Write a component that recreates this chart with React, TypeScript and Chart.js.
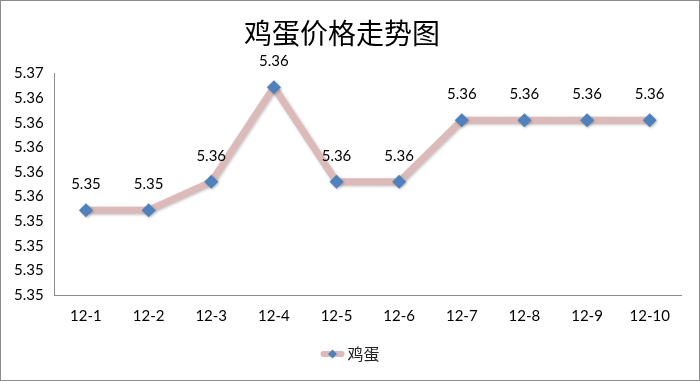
import React, { useEffect, useRef } from "react";
import { Chart, registerables } from "chart.js";

Chart.register(...registerables);

const title = "鸡蛋价格走势图";
const seriesName = "鸡蛋";
const categories = ["12-1", "12-2", "12-3", "12-4", "12-5", "12-6", "12-7", "12-8", "12-9", "12-10"];
const prices = [5.3549, 5.3549, 5.3572, 5.3649, 5.3572, 5.3572, 5.3622, 5.3622, 5.3622, 5.3622];
const yTickValues = [5.348, 5.35, 5.352, 5.354, 5.356, 5.358, 5.36, 5.362, 5.364, 5.366];

const LATIN = "Lato, 'Noto Sans CJK SC', sans-serif";
const LINE_COLOR = "#DDBABA";
const MARKER_COLOR = "#4F81BD";

export default function App() {
  const ref = useRef<HTMLCanvasElement | null>(null);

  useEffect(() => {
    if (!ref.current) return;

    const extras = {
      id: "extras",
      beforeDatasetsDraw(chart: any) {
        const ctx = chart.ctx;
        ctx.save();
        ctx.shadowColor = "rgba(0,0,0,0.25)";
        ctx.shadowBlur = 3;
        ctx.shadowOffsetX = 1;
        ctx.shadowOffsetY = 1;
      },
      afterDatasetsDraw(chart: any) {
        const ctx = chart.ctx;
        ctx.restore();
        const meta = chart.getDatasetMeta(0);
        ctx.save();
        ctx.fillStyle = "#000";
        ctx.font = "15px " + LATIN;
        ctx.textAlign = "center";
        ctx.textBaseline = "middle";
        meta.data.forEach((pt: any, i: number) => {
          const v = chart.data.datasets[0].data[i] as number;
          ctx.fillText(v.toFixed(2), pt.x, pt.y - 26);
        });
        ctx.restore();
      },
      afterDraw(chart: any) {
        const ctx = chart.ctx;
        ctx.save();
        const label = chart.data.datasets[0].label;
        ctx.font = "16px 'Noto Sans CJK SC', sans-serif";
        const tw = ctx.measureText(label).width;
        const lineW = 24;
        const gap = 3;
        const total = lineW + gap + tw;
        const cx = chart.width / 2;
        const x0 = cx - total / 2;
        const ly = 354;
        ctx.strokeStyle = LINE_COLOR;
        ctx.lineWidth = 6;
        ctx.lineCap = "round";
        ctx.beginPath();
        ctx.moveTo(x0 + 3, ly);
        ctx.lineTo(x0 + lineW - 3, ly);
        ctx.stroke();
        ctx.fillStyle = MARKER_COLOR;
        const mx = x0 + lineW / 2;
        const r = 4.5;
        ctx.beginPath();
        ctx.moveTo(mx, ly - r);
        ctx.lineTo(mx + r, ly);
        ctx.lineTo(mx, ly + r);
        ctx.lineTo(mx - r, ly);
        ctx.closePath();
        ctx.fill();
        ctx.fillStyle = "#222";
        ctx.textAlign = "left";
        ctx.textBaseline = "middle";
        ctx.fillText(label, x0 + lineW + gap, ly);
        ctx.strokeStyle = "#8C8C8C";
        ctx.lineWidth = 1;
        ctx.strokeRect(0.5, 0.5, chart.width - 1, chart.height - 1);
        ctx.restore();
      },
    };

    const chart = new Chart(ref.current, {
      type: "line",
      data: {
        labels: categories,
        datasets: [
          {
            label: seriesName,
            data: prices,
            borderColor: LINE_COLOR,
            borderWidth: 7,
            backgroundColor: MARKER_COLOR,
            pointBackgroundColor: MARKER_COLOR,
            pointBorderColor: MARKER_COLOR,
            pointBorderWidth: 0,
            pointStyle: "rectRot",
            pointRadius: 7,
            tension: 0,
            borderJoinStyle: "round",
            borderCapStyle: "round",
          },
        ],
      },
      plugins: [extras],
      options: {
        animation: false,
        responsive: false,
        maintainAspectRatio: false,
        layout: { padding: { left: 3, right: 19, top: 0, bottom: 44 } },
        plugins: {
          legend: { display: false },
          tooltip: { enabled: false },
          title: {
            display: true,
            text: title,
            color: "#000",
            font: { size: 28, family: "'Noto Sans CJK SC', sans-serif", weight: "normal" },
            padding: { top: 17, bottom: 23 },
          },
        },
        scales: {
          x: {
            offset: true,
            grid: { display: false, drawTicks: false },
            border: { display: true, color: "#8C8C8C", width: 1 },
            ticks: { color: "#000", font: { size: 15, family: LATIN }, padding: 12, maxRotation: 0 },
          },
          y: {
            min: 5.348,
            max: 5.366,
            grid: { display: false, drawTicks: false },
            border: { display: true, color: "#8C8C8C", width: 1 },
            afterBuildTicks(scale: any) {
              scale.ticks = yTickValues.map((v) => ({ value: v }));
            },
            ticks: {
              color: "#000",
              font: { size: 15, family: LATIN },
              padding: 11,
              callback: (v: any) => Number(v).toFixed(2),
            },
          },
        },
      },
    });

    return () => chart.destroy();
  }, []);

  return (
    <div style={{ position: "absolute", left: 0, top: 0, width: 700, height: 381, background: "#fff" }}>
      <canvas ref={ref} width={700} height={381} style={{ width: 700, height: 381, display: "block" }} />
    </div>
  );
}
